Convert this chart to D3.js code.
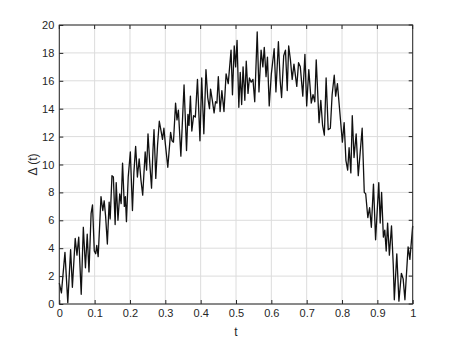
<!DOCTYPE html>
<html>
<head>
<meta charset="utf-8">
<script src="https://cdn.jsdelivr.net/npm/d3@7"></script>
<style>
  body { margin: 0; background: #fff; }
  svg { display: block; font-family: "Liberation Sans", Arial, sans-serif; }
</style>
</head>
<body>
<div id="chart"></div>
<script>
// values (peaks and troughs)
const tVals = [0.000,0.006,0.016,0.024,0.032,0.037,0.045,0.050,0.055,0.062,0.068,0.074,0.079,0.084,0.090,0.094,0.099,0.103,0.106,0.110,
  0.118,0.123,0.127,0.131,0.136,0.141,0.144,0.149,0.153,0.158,0.161,0.166,0.171,0.175,0.179,0.184,0.187,0.190,0.195,0.201,
  0.207,0.211,0.216,0.221,0.226,0.231,0.236,0.243,0.247,0.251,0.256,0.261,0.265,0.268,0.273,0.278,0.283,0.288,0.292,0.296,
  0.300,0.307,0.315,0.319,0.323,0.329,0.333,0.337,0.344,0.353,0.360,0.364,0.367,0.371,0.375,0.380,0.385,0.391,0.398,0.403,
  0.409,0.415,0.420,0.425,0.428,0.433,0.438,0.442,0.446,0.450,0.455,0.460,0.466,0.472,0.478,0.486,0.490,0.495,0.499,0.503,
  0.508,0.512,0.516,0.520,0.525,0.529,0.534,0.538,0.543,0.548,0.553,0.560,0.565,0.571,0.576,0.580,0.585,0.589,0.594,0.600,
  0.608,0.613,0.620,0.625,0.629,0.635,0.640,0.645,0.649,0.654,0.659,0.664,0.672,0.677,0.682,0.689,0.695,0.700,0.706,0.713,
  0.718,0.723,0.727,0.735,0.740,0.745,0.750,0.755,0.761,0.767,0.772,0.778,0.782,0.787,0.793,0.801,0.806,0.811,0.816,0.820,
  0.825,0.829,0.834,0.840,0.846,0.857,0.863,0.867,0.873,0.878,0.883,0.889,0.895,0.904,0.908,0.912,0.917,0.921,0.925,0.929,
  0.934,0.940,0.945,0.948,0.955,0.961,0.968,0.973,0.978,0.987,0.992,1.000];

const deltaVals = [1.5,0.8,3.7,0.1,3.9,1.2,4.7,3.5,4.8,0.7,5.5,2.6,5.0,2.3,6.5,7.1,3.8,3.6,4.2,3.4,
  7.7,6.7,7.4,6.3,4.3,7.3,6.1,9.2,9.1,5.7,8.7,6.0,7.9,7.2,10.1,7.0,7.7,5.9,9.1,10.9,
  6.7,9.4,11.3,9.1,10.4,8.9,7.8,10.9,9.6,12.2,10.1,8.3,11.0,12.5,9.0,11.4,13.1,12.4,11.8,12.6,
  11.5,9.8,12.3,11.7,11.6,14.4,13.2,13.9,10.6,15.7,11.0,13.6,12.8,14.9,12.4,13.5,13.4,16.1,11.7,16.2,
  12.2,16.8,14.8,14.0,15.4,14.6,13.7,14.5,14.4,16.3,13.8,15.3,13.8,16.5,15.8,18.2,15.0,18.5,17.0,18.9,
  14.1,16.6,14.3,17.0,14.6,17.4,15.1,16.2,15.9,16.1,14.5,19.5,15.2,18.2,17.0,18.4,16.3,17.7,14.2,16.5,
  18.3,15.2,18.8,16.0,14.8,17.8,18.2,15.3,18.5,17.5,16.1,17.2,15.6,17.3,17.0,14.9,17.9,14.2,16.8,14.4,
  15.0,14.5,17.5,13.0,14.6,12.8,12.1,16.2,12.5,12.6,15.0,16.4,14.9,15.8,14.0,11.6,13.0,10.3,9.6,11.2,
  9.4,13.5,10.5,12.2,9.2,12.6,8.0,7.9,6.2,6.9,5.5,8.6,4.6,8.7,5.8,8.0,4.8,5.3,3.8,5.8,
  3.5,5.6,2.8,0.3,3.6,0.2,2.2,1.8,0.3,4.1,3.2,5.6];

const xTicks = [0, 0.1, 0.2, 0.3, 0.4, 0.5, 0.6, 0.7, 0.8, 0.9, 1];
const yTicks = [0, 2, 4, 6, 8, 10, 12, 14, 16, 18, 20];

const W = 456, H = 341;
const margin = {left: 59.3, right: 43.3, top: 25, bottom: 37};
const w = W - margin.left - margin.right;
const h = H - margin.top - margin.bottom;

const svg = d3.select("#chart").append("svg").attr("width", W).attr("height", H);
svg.append("rect").attr("width", W).attr("height", H).attr("fill", "#fff");

const g = svg.append("g").attr("transform", `translate(${margin.left},${margin.top})`);

const x = d3.scaleLinear().domain([0, 1]).range([0, w]);
const y = d3.scaleLinear().domain([0, 20]).range([h, 0]);

// grid
g.append("g").attr("class", "grid")
  .selectAll("line.gx").data(xTicks).join("line")
  .attr("x1", d => x(d)).attr("x2", d => x(d)).attr("y1", 0).attr("y2", h)
  .attr("stroke", "#dcdcdc").attr("stroke-width", 1);
g.append("g").attr("class", "grid")
  .selectAll("line.gy").data(yTicks).join("line")
  .attr("x1", 0).attr("x2", w).attr("y1", d => y(d)).attr("y2", d => y(d))
  .attr("stroke", "#dcdcdc").attr("stroke-width", 1);

// data line
const pts = tVals.map((t, i) => [t, deltaVals[i]]);
const line = d3.line().x(d => x(d[0])).y(d => y(d[1]));
g.append("path").datum(pts)
  .attr("d", line)
  .attr("fill", "none")
  .attr("stroke", "#111")
  .attr("stroke-width", 1.3)
  .attr("stroke-linejoin", "round");

// axes with inward ticks
const xAxis = g.append("g").attr("transform", `translate(0,${h})`)
  .call(d3.axisBottom(x).tickValues(xTicks).tickFormat(d3.format("")).tickSizeInner(-4).tickSizeOuter(0).tickPadding(5));
const yAxis = g.append("g")
  .call(d3.axisLeft(y).tickValues(yTicks).tickSizeInner(-4).tickSizeOuter(0).tickPadding(5));
[xAxis, yAxis].forEach(a => {
  a.select(".domain").remove();
  a.selectAll("line").attr("stroke", "#262626");
  a.selectAll("text").attr("font-size", 11).attr("fill", "#262626")
    .attr("font-family", "Liberation Sans, Arial, sans-serif");
});

// top/right ticks too (box style)
g.append("g").selectAll("line").data(xTicks).join("line")
  .attr("x1", d => x(d)).attr("x2", d => x(d)).attr("y1", 0).attr("y2", 4)
  .attr("stroke", "#262626");
g.append("g").selectAll("line").data(yTicks).join("line")
  .attr("x1", w).attr("x2", w - 4).attr("y1", d => y(d)).attr("y2", d => y(d))
  .attr("stroke", "#262626");

// frame
g.append("rect").attr("width", w).attr("height", h)
  .attr("fill", "none").attr("stroke", "#262626").attr("stroke-width", 1);

// labels
svg.append("text")
  .attr("x", margin.left + w / 2).attr("y", 336)
  .attr("text-anchor", "middle").attr("font-size", 12).attr("fill", "#262626")
  .text("t");
svg.append("text")
  .attr("transform", `translate(37,${margin.top + h / 2}) rotate(-90)`)
  .attr("text-anchor", "middle").attr("font-size", 12).attr("fill", "#262626")
  .text("Δ (t)");
</script>
</body>
</html>
